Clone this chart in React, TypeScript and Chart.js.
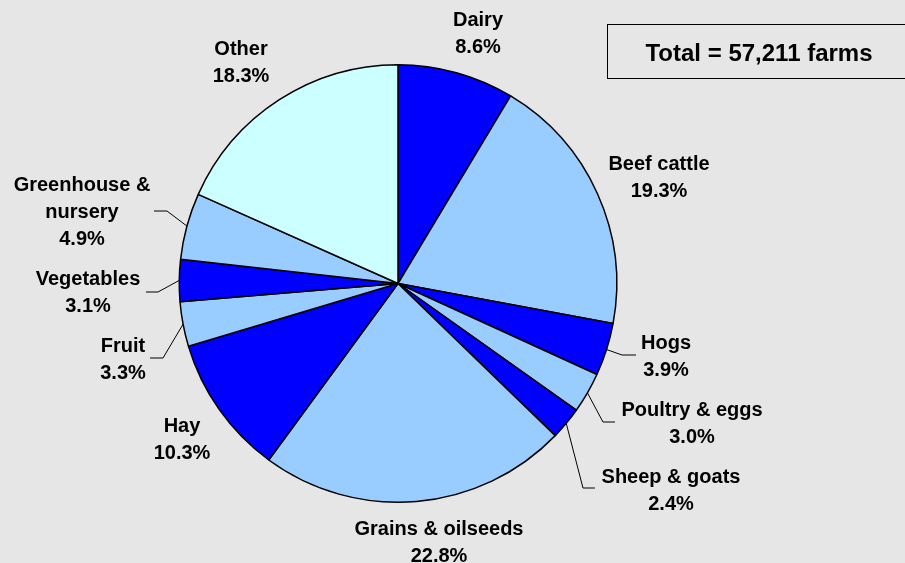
import React, { useEffect, useRef } from "react";
import { Chart, registerables } from "chart.js";

Chart.register(...registerables);

// ---- data ----
const categories = [
  "Dairy",
  "Beef cattle",
  "Hogs",
  "Poultry & eggs",
  "Sheep & goats",
  "Grains & oilseeds",
  "Hay",
  "Fruit",
  "Vegetables",
  "Greenhouse & nursery",
  "Other",
];
const shares = [8.6, 19.3, 3.9, 3.0, 2.4, 22.8, 10.3, 3.3, 3.1, 4.9, 18.3];
const labelLines = [
  ["Dairy"],
  ["Beef cattle"],
  ["Hogs"],
  ["Poultry & eggs"],
  ["Sheep & goats"],
  ["Grains & oilseeds"],
  ["Hay"],
  ["Fruit"],
  ["Vegetables"],
  ["Greenhouse &", "nursery"],
  ["Other"],
];
const totalText = "Total = 57,211 farms";

// ---- styles / layout ----
const DARK = "#0000ff";
const LIGHT = "#99ccff";
const PALE = "#ccffff";
const sliceColors = [DARK, LIGHT, DARK, LIGHT, DARK, LIGHT, DARK, LIGHT, DARK, LIGHT, PALE];

// label anchor: center x, baseline of first line; optional leader knee + end
type Lay = { x: number; y: number; leader?: [number, number][] };
const labelLayout: Lay[] = [
  { x: 478, y: 26 },
  { x: 659, y: 170 },
  { x: 666, y: 349, leader: [[622, 355], [636, 355]] },
  { x: 692, y: 416, leader: [[603, 422], [615, 422]] },
  { x: 671, y: 483, leader: [[583, 488], [595, 488]] },
  { x: 439, y: 535 },
  { x: 182, y: 432 },
  { x: 123, y: 352, leader: [[163, 358], [150, 358]] },
  { x: 88, y: 285, leader: [[158, 292], [146, 292]] },
  { x: 82, y: 191, leader: [[167, 211], [154, 211]] },
  { x: 241, y: 55 },
];
const LINE_H = 27;
const FONT = "bold 20px 'Liberation Sans', Arial, sans-serif";
const TOTAL_FONT = "bold 24px 'Liberation Sans', Arial, sans-serif";

const decorPlugin = {
  id: "decor",
  beforeDraw(chart: any) {
    const ctx = chart.ctx;
    ctx.save();
    ctx.fillStyle = "#e6e6e6";
    ctx.fillRect(0, 0, chart.width, chart.height);
    ctx.restore();
  },
  afterDatasetsDraw(chart: any) {
    const ctx = chart.ctx;
    const meta = chart.getDatasetMeta(0);
    ctx.save();
    // leaders
    ctx.strokeStyle = "#000";
    ctx.lineWidth = 1;
    meta.data.forEach((arc: any, i: number) => {
      const lay = labelLayout[i];
      if (!lay.leader) return;
      const p = arc.getProps(["x", "y", "startAngle", "endAngle", "outerRadius"], true);
      const mid = (p.startAngle + p.endAngle) / 2;
      const sx = p.x + Math.cos(mid) * p.outerRadius;
      const sy = p.y + Math.sin(mid) * p.outerRadius;
      ctx.beginPath();
      ctx.moveTo(sx, sy);
      lay.leader.forEach(([lx, ly]) => ctx.lineTo(lx, ly));
      ctx.stroke();
    });
    // labels
    ctx.fillStyle = "#000";
    ctx.font = FONT;
    ctx.textAlign = "center";
    ctx.textBaseline = "alphabetic";
    categories.forEach((_, i) => {
      const lay = labelLayout[i];
      const lines = [...labelLines[i], shares[i].toFixed(1) + "%"];
      lines.forEach((t, k) => ctx.fillText(t, lay.x, lay.y + k * LINE_H));
    });
    // total box
    ctx.strokeStyle = "#000";
    ctx.lineWidth = 1;
    ctx.strokeRect(607.5, 24.5, 320, 54);
    ctx.font = TOTAL_FONT;
    ctx.fillText(totalText, 759, 61);
    ctx.restore();
  },
};

export default function App() {
  const ref = useRef<HTMLCanvasElement | null>(null);
  useEffect(() => {
    if (!ref.current) return;
    const chart = new Chart(ref.current, {
      type: "pie",
      data: {
        labels: categories,
        datasets: [
          {
            data: shares,
            backgroundColor: sliceColors,
            borderColor: "#000",
            borderWidth: 1.5,
          },
        ],
      },
      options: {
        responsive: false,
        animation: false,
        layout: { padding: { left: 178.5, right: 287.5, top: 64, bottom: 60 } },
        plugins: {
          legend: { display: false },
          tooltip: { enabled: false },
        },
      },
      plugins: [decorPlugin],
    });
    return () => chart.destroy();
  }, []);
  return (
    <div style={{ position: "fixed", left: 0, top: 0, width: 905, height: 563 }}>
      <canvas ref={ref} width={905} height={563} style={{ display: "block" }} />
    </div>
  );
}
